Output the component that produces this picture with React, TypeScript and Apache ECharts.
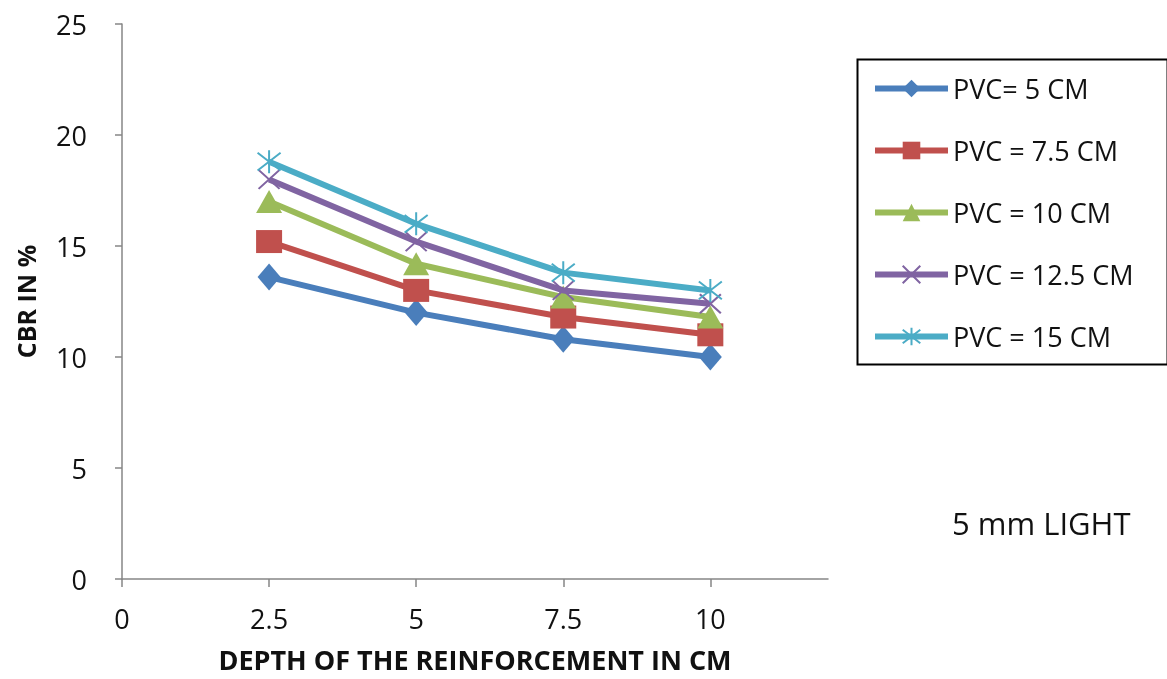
import React, { useEffect, useRef } from "react";
import * as echarts from "echarts";

const depths = [2.5, 5, 7.5, 10];
const seriesNames = ["PVC= 5 CM", "PVC = 7.5 CM", "PVC = 10 CM", "PVC = 12.5 CM", "PVC = 15 CM"];
const pvc5 = [13.6, 12.0, 10.8, 10.0];
const pvc75 = [15.2, 13.0, 11.8, 11.0];
const pvc10 = [17.0, 14.2, 12.7, 11.8];
const pvc125 = [18.0, 15.2, 13.0, 12.4];
const pvc15 = [18.8, 16.0, 13.8, 13.0];
const xTicks = [0, 2.5, 5, 7.5, 10];
const colors = ["#4A7EBB", "#C0504D", "#9BBB59", "#8064A2", "#4BACC6"];

const FONT = "Open Sans";

export default function App() {
  const ref = useRef<HTMLDivElement>(null);
  useEffect(() => {
    if (!ref.current) return;
    const chart = echarts.init(ref.current, null, { renderer: "svg" });
    const values = [pvc5, pvc75, pvc10, pvc125, pvc15];
    const symbols = [
      "diamond",
      "rect",
      "triangle",
      "path://M0,0L20,20M20,0L0,20",
      "path://M0,0L20,20M20,0L0,20M10,-3L10,23",
    ];
    const sizes: any[] = [[23, 27], [26, 23], [26, 23], [21, 19], [23, 23]];
    const series = values.map((v, i) => ({
      name: seriesNames[i],
      type: "line",
      data: depths.map((d, j) => [d, v[j]]),
      symbol: symbols[i],
      symbolSize: sizes[i],
      lineStyle: { color: colors[i], width: 6 },
      itemStyle:
        i >= 3
          ? { color: colors[i], borderColor: colors[i], borderWidth: 2 }
          : { color: colors[i] },
      z: 2 + i,
    }));
    chart.setOption({
      animation: false,
      textStyle: { fontFamily: FONT },
      grid: { left: 122, right: 339, top: 24, bottom: 100, outerBoundsMode: "none" },
      xAxis: {
        type: "value",
        min: 0,
        max: 12,
        interval: 2.5,
        splitLine: { show: false },
        axisLine: { lineStyle: { color: "#868686", width: 1.5 } },
        axisTick: { show: true, length: 8, customValues: xTicks, lineStyle: { color: "#868686", width: 1.5 } },
        axisLabel: { customValues: xTicks, fontSize: 27, color: "#111", margin: 26, fontFamily: FONT },
        name: "DEPTH OF THE REINFORCEMENT IN CM",
        nameLocation: "middle",
        nameGap: 66,
        nameTextStyle: { fontSize: 27, lineHeight: 28, fontWeight: "bold", color: "#111", fontFamily: FONT },
      },
      yAxis: {
        type: "value",
        min: 0,
        max: 25,
        interval: 5,
        splitLine: { show: false },
        axisLine: { show: true, lineStyle: { color: "#868686", width: 1.5 } },
        axisTick: { show: true, length: 7, lineStyle: { color: "#868686", width: 1.5 } },
        axisLabel: { fontSize: 27, color: "#111", margin: 35, fontFamily: FONT },
        name: "CBR IN %",
        nameLocation: "middle",
        nameRotate: 90,
        nameGap: 84,
        nameTextStyle: { fontSize: 25, fontWeight: "bold", color: "#111", fontFamily: FONT },
      },
      legend: {
        orient: "vertical",
        left: 872,
        top: 75,
        padding: 0,
        itemWidth: 73,
        itemHeight: 22,
        itemGap: 35,
        lineStyle: { width: 6 },
        textStyle: { fontSize: 27, color: "#111", lineHeight: 26, fontFamily: FONT },
        data: seriesNames,
      },
      graphic: [
        {
          type: "rect",
          left: 855,
          top: 57,
          shape: { width: 310, height: 305 },
          style: { fill: "none", stroke: "#000", lineWidth: 2 },
          z: 0,
        },
        {
          type: "text",
          left: 952,
          top: 507,
          style: { text: "5 mm LIGHT", fontSize: 31, fill: "#111", fontFamily: FONT },
        },
      ],
      series,
    });
    return () => chart.dispose();
  }, []);
  return <div ref={ref} style={{ position: "fixed", left: 0, top: 0, width: 1167, height: 679 }} />;
}
